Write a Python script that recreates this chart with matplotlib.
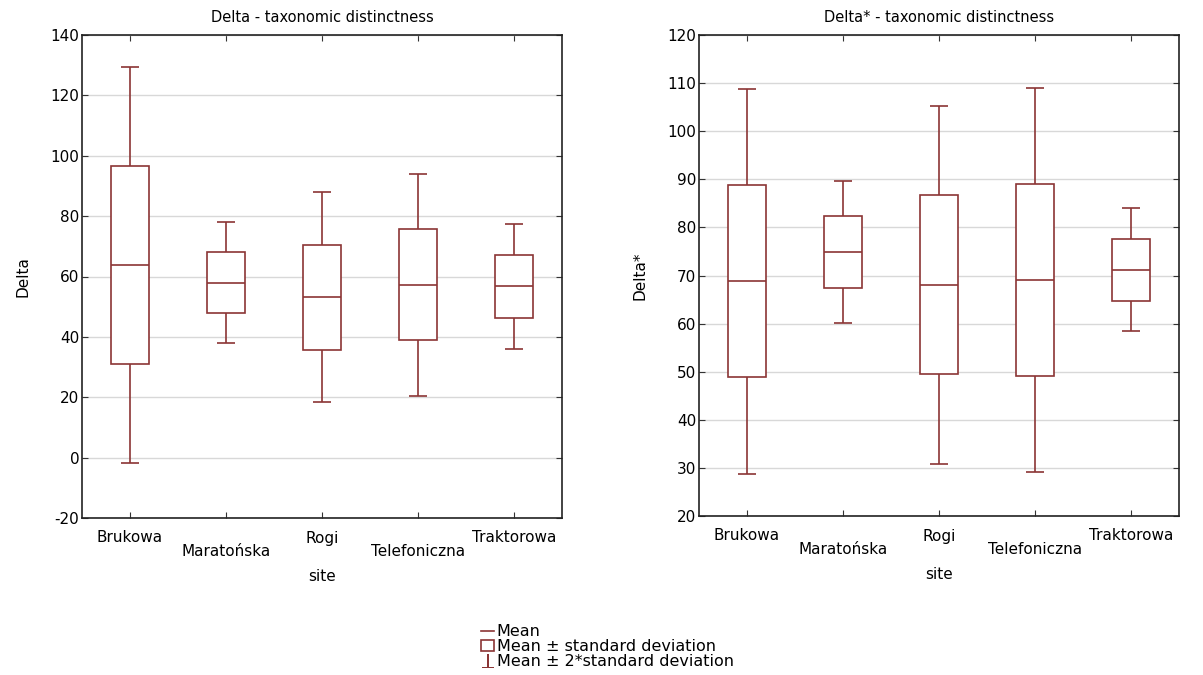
import numpy as np
import matplotlib
matplotlib.use("Agg")
import matplotlib.pyplot as plt
from matplotlib.lines import Line2D
from matplotlib.patches import Patch

sites = ["Brukowa", "Maratońska", "Rogi", "Telefoniczna", "Traktorowa"]

# Delta: mean and standard deviation per site
delta_mean = [63.8, 58.0, 53.1, 57.2, 56.7]
delta_sd = [32.8, 10.0, 17.4, 18.4, 10.3]

# Delta*: mean and standard deviation per site
dstar_mean = [68.8, 74.9, 68.1, 69.1, 71.2]
dstar_sd = [20.0, 7.4, 18.6, 19.95, 6.4]

col = "#8b3535"
plt.rcParams["font.family"] = ["DejaVu Sans"]
plt.rcParams["axes.unicode_minus"] = False


def draw_panel(ax, means, sds, title, ylabel, ylim, yticks):
    x = np.arange(1, len(sites) + 1)
    means = np.array(means)
    sds = np.array(sds)
    ax.set_axisbelow(True)
    ax.grid(axis="y", color="#d8d8d8", lw=1)
    ax.bar(x, 2 * sds, bottom=means - sds, width=0.4, facecolor="white",
           edgecolor=col, lw=1.2, zorder=3)
    ax.hlines(means, x - 0.2, x + 0.2, color=col, lw=1.2, zorder=4)
    ax.vlines(x, means + sds, means + 2 * sds, color=col, lw=1.2, zorder=3)
    ax.vlines(x, means - 2 * sds, means - sds, color=col, lw=1.2, zorder=3)
    ax.hlines(means + 2 * sds, x - 0.095, x + 0.095, color=col, lw=1.2, zorder=3)
    ax.hlines(means - 2 * sds, x - 0.095, x + 0.095, color=col, lw=1.2, zorder=3)

    ax.set_xlim(0.5, len(sites) + 0.5)
    ax.set_ylim(*ylim)
    ax.set_yticks(yticks)
    ax.set_xticks(x)
    labels = [s if i % 2 == 0 else "\n" + s for i, s in enumerate(sites)]
    ax.set_xticklabels(labels, fontsize=11)
    for t in ax.get_xticklabels():
        t.set_linespacing(0.9)
    ax.tick_params(axis="y", labelsize=11, pad=2)
    ax.tick_params(axis="x", pad=9)
    ax.tick_params(direction="in", length=4, top=True, right=True, color="#333333")
    for s in ax.spines.values():
        s.set_color("#222222")
        s.set_linewidth(1.2)
    ax.set_title(title, fontsize=10.5, pad=9)
    ax.set_ylabel(ylabel, fontsize=11, labelpad=14)
    ax.set_xlabel("site", fontsize=11, labelpad=7)


fig = plt.figure(figsize=(12.03, 6.75), dpi=100)
ax1 = fig.add_axes([82 / 1203, 1 - 518 / 675, 480 / 1203, 483 / 675])
ax2 = fig.add_axes([699 / 1203, 1 - 516 / 675, 480 / 1203, 481 / 675])

draw_panel(ax1, delta_mean, delta_sd, "Delta - taxonomic distinctness", "Delta",
           (-20, 140), np.arange(-20, 141, 20))
draw_panel(ax2, dstar_mean, dstar_sd, "Delta* - taxonomic distinctness", "Delta*",
           (20, 120), np.arange(20, 121, 10))

handles = [
    Line2D([], [], color=col, lw=1.2),
    Patch(facecolor="white", edgecolor=col, lw=1.2),
    Line2D([], [], color=col, ls="none", marker=r"$\perp$", markersize=10,
           markeredgewidth=0),
]
leg_labels = ["Mean", "Mean ± standard deviation", "Mean ± 2*standard deviation"]
fig.legend(handles, leg_labels, loc="center", bbox_to_anchor=(0.505, 0.042),
           frameon=False, fontsize=11.5, handlelength=0.8, handletextpad=0.15,
           labelspacing=0.0, borderpad=0)

fig.savefig("out.png", dpi=100)
